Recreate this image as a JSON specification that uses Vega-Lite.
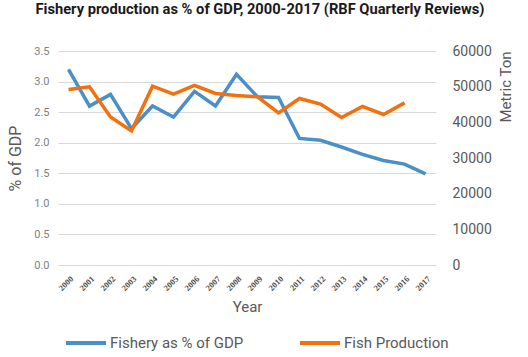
{
  "$schema": "https://vega.github.io/schema/vega-lite/v6.json",
  "autosize": {"type": "none"},
  "padding": {"left": 58, "top": 51, "right": 92, "bottom": 92},
  "width": 378,
  "height": 214,
  "background": "white",
  "title": {
    "text": "Fishery production as % of GDP, 2000-2017 (RBF Quarterly Reviews)",
    "font": "Roboto",
    "fontSize": 14.7,
    "fontWeight": "bold",
    "color": "#1a1a1a",
    "anchor": "middle",
    "dx": 13,
    "offset": 27
  },
  "config": {
    "view": {"stroke": null},
    "font": "Roboto"
  },
  "data": {
    "values": [
      {"year": "2000", "series": "Fishery as % of GDP", "value": 3.20},
      {"year": "2001", "series": "Fishery as % of GDP", "value": 2.60},
      {"year": "2002", "series": "Fishery as % of GDP", "value": 2.79},
      {"year": "2003", "series": "Fishery as % of GDP", "value": 2.23},
      {"year": "2004", "series": "Fishery as % of GDP", "value": 2.60},
      {"year": "2005", "series": "Fishery as % of GDP", "value": 2.42},
      {"year": "2006", "series": "Fishery as % of GDP", "value": 2.84},
      {"year": "2007", "series": "Fishery as % of GDP", "value": 2.60},
      {"year": "2008", "series": "Fishery as % of GDP", "value": 3.12},
      {"year": "2009", "series": "Fishery as % of GDP", "value": 2.75},
      {"year": "2010", "series": "Fishery as % of GDP", "value": 2.74},
      {"year": "2011", "series": "Fishery as % of GDP", "value": 2.07},
      {"year": "2012", "series": "Fishery as % of GDP", "value": 2.04},
      {"year": "2013", "series": "Fishery as % of GDP", "value": 1.93},
      {"year": "2014", "series": "Fishery as % of GDP", "value": 1.81},
      {"year": "2015", "series": "Fishery as % of GDP", "value": 1.71},
      {"year": "2016", "series": "Fishery as % of GDP", "value": 1.65},
      {"year": "2017", "series": "Fishery as % of GDP", "value": 1.49},
      {"year": "2000", "series": "Fish Production", "value": 49200},
      {"year": "2001", "series": "Fish Production", "value": 49950},
      {"year": "2002", "series": "Fish Production", "value": 41500},
      {"year": "2003", "series": "Fish Production", "value": 37600},
      {"year": "2004", "series": "Fish Production", "value": 50150},
      {"year": "2005", "series": "Fish Production", "value": 47900},
      {"year": "2006", "series": "Fish Production", "value": 50350},
      {"year": "2007", "series": "Fish Production", "value": 48100},
      {"year": "2008", "series": "Fish Production", "value": 47550},
      {"year": "2009", "series": "Fish Production", "value": 47150},
      {"year": "2010", "series": "Fish Production", "value": 42650},
      {"year": "2011", "series": "Fish Production", "value": 46700},
      {"year": "2012", "series": "Fish Production", "value": 45100},
      {"year": "2013", "series": "Fish Production", "value": 41350},
      {"year": "2014", "series": "Fish Production", "value": 44450},
      {"year": "2015", "series": "Fish Production", "value": 42200},
      {"year": "2016", "series": "Fish Production", "value": 45450}
    ]
  },
  "encoding": {
    "x": {
      "field": "year",
      "type": "ordinal",
      "scale": {"padding": 0.5},
      "axis": {
        "title": "Year",
        "titleFont": "Roboto",
        "titleFontSize": 15,
        "titleFontWeight": "normal",
        "titleColor": "#595959",
        "titlePadding": 7,
        "labelAngle": -45,
        "labelFont": "Liberation Serif",
        "labelFontWeight": "bold",
        "labelFontSize": 8.5,
        "labelColor": "#4d4d4d",
        "labelPadding": 9,
        "labelOverlap": false,
        "ticks": false,
        "domain": false,
        "grid": false
      }
    },
    "color": {
      "field": "series",
      "type": "nominal",
      "scale": {
        "domain": ["Fishery as % of GDP", "Fish Production"],
        "range": ["#4A8FC8", "#F2700E"]
      },
      "legend": {
        "title": null,
        "orient": "none",
        "direction": "horizontal",
        "legendX": 6,
        "legendY": 270,
        "symbolType": "stroke",
        "symbolSize": 1600,
        "symbolStrokeWidth": 4,
        "labelFont": "Roboto",
        "labelFontSize": 15,
        "labelColor": "#595959",
        "labelOffset": 2,
        "columnPadding": 48
      }
    }
  },
  "layer": [
    {
      "transform": [{"filter": "datum.series === 'Fishery as % of GDP'"}],
      "mark": {"type": "line", "strokeWidth": 3.5},
      "encoding": {
        "y": {
          "field": "value",
          "type": "quantitative",
          "scale": {"domain": [0, 3.5]},
          "axis": {
            "title": "% of GDP",
            "titleFont": "Roboto",
            "titleFontSize": 16,
            "titleFontWeight": "normal",
            "titleColor": "#595959",
            "titlePadding": 10,
            "values": [0, 0.5, 1, 1.5, 2, 2.5, 3, 3.5],
            "format": ".1f",
            "labelFont": "Roboto",
            "labelFontSize": 11,
            "labelColor": "#7f7f7f",
            "labelPadding": 9,
            "ticks": false,
            "domain": false,
            "grid": true,
            "gridColor": "#d9d9d9",
            "gridWidth": 1
          }
        }
      }
    },
    {
      "transform": [{"filter": "datum.series === 'Fish Production'"}],
      "mark": {"type": "line", "strokeWidth": 3.5},
      "encoding": {
        "y": {
          "field": "value",
          "type": "quantitative",
          "scale": {"domain": [0, 60000]},
          "axis": {
            "orient": "right",
            "title": "Metric  Ton",
            "titleAngle": 270,
            "titleAnchor": "end",
            "titleAlign": "right",
            "titleFont": "Roboto",
            "titleFontSize": 15,
            "titleFontWeight": "normal",
            "titleColor": "#595959",
            "titlePadding": 22,
            "values": [0, 10000, 20000, 30000, 40000, 50000, 60000],
            "format": "d",
            "labelFont": "Roboto",
            "labelFontSize": 14,
            "labelColor": "#595959",
            "labelPadding": 16,
            "ticks": false,
            "domain": false,
            "grid": false
          }
        }
      }
    }
  ],
  "resolve": {"scale": {"y": "independent"}}
}
